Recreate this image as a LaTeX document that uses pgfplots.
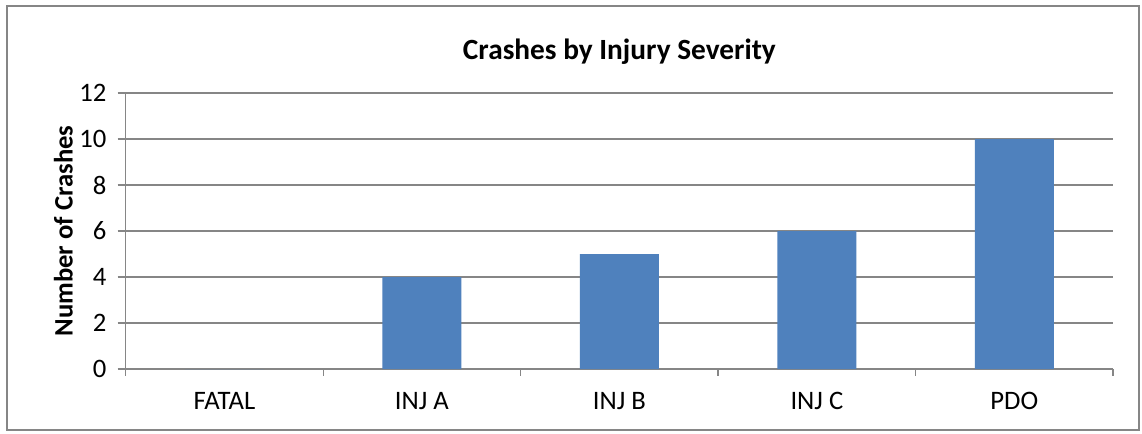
\documentclass[border=0pt]{standalone}
\usepackage{fontspec}
\setmainfont{Carlito}
\usepackage{pgfplots}
\pgfplotsset{compat=1.18}

\definecolor{barblue}{HTML}{4F81BD}
\definecolor{gridgray}{HTML}{868686}

\begin{document}
\begin{tikzpicture}[x=1pt,y=1pt]
% page size and outer frame (1px = 0.75pt)
\path[fill=white] (0,0) rectangle (856.5,324.75);
\draw[gridgray, line width=0.9pt] (5.25,2.25) rectangle (854.25,320.25);
\begin{axis}[
  at={(94.3pt,48pt)}, anchor=south west,
  scale only axis,
  width=740.5pt, height=207pt,
  xmin=-0.5, xmax=4.5,
  ymin=0, ymax=12,
  ytick={0,2,...,12},
  xtick={0,1,2,3,4},
  xticklabels={FATAL,INJ A,INJ B,INJ C,PDO},
  minor xtick={-0.5,0.5,...,4.5},
  axis x line=bottom, axis y line=left,
  axis line style={gridgray, line width=1pt, -},
  ymajorgrids,
  grid style={gridgray, line width=1pt},
  tick align=outside,
  major tick style={gridgray, line width=1pt},
  minor tick style={gridgray, line width=1pt},
  major tick length=6pt,
  minor tick length=5pt,
  x tick style={draw=none},
  minor x tick style={draw=gridgray},
  xticklabel style={font=\fontsize{20}{24}\selectfont, yshift=-8pt},
  yticklabel style={font=\fontsize{20}{24}\selectfont, xshift=-5pt},
  /pgf/number format/assume math mode=true,
  ylabel={\bfseries Number of Crashes},
  ylabel style={font=\fontsize{20}{24}\selectfont, yshift=-2pt},
  title={\bfseries Crashes by Injury Severity},
  title style={font=\fontsize{22}{26}\selectfont, yshift=12pt},
  ybar, bar width=59.3pt,
  clip=false,
]
\addplot[fill=barblue, draw=none] coordinates {
  (0,0) (1,4) (2,5) (3,6) (4,10)
};
\end{axis}
\end{tikzpicture}
\end{document}
